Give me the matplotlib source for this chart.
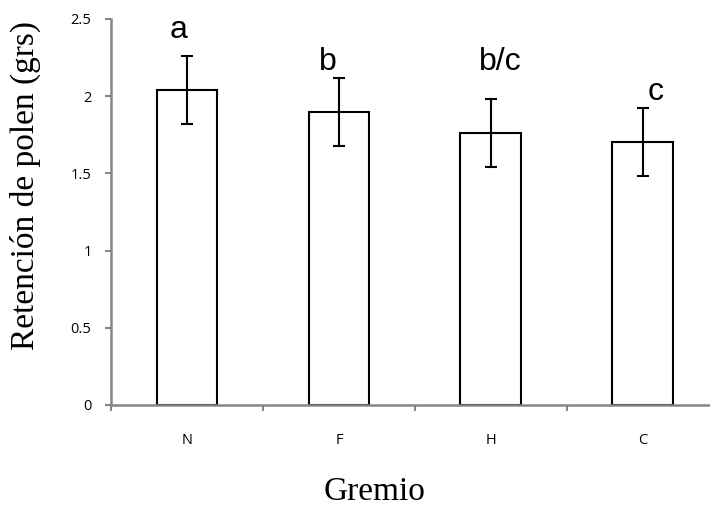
import matplotlib
matplotlib.use('Agg')
import matplotlib.pyplot as plt
import numpy as np

# data
gremios = ['N', 'F', 'H', 'C']
retencion = [2.04, 1.90, 1.76, 1.705]
error = [0.22, 0.22, 0.22, 0.22]
letras = ['a', 'b', 'b/c', 'c']
letras_y = [2.38, 2.17, 2.17, 1.975]
letras_dx = [-0.055, -0.075, 0.06, 0.085]

gris = '#868686'

fig = plt.figure(figsize=(7.1, 5.07), dpi=100)
ax = fig.add_axes([111/710, 1 - 405/507, 607.7/710, 386/507])

x = np.arange(len(gremios))
ax.bar(x, retencion, width=0.4, color='white', edgecolor='black', linewidth=1.5, zorder=2)
ax.errorbar(x, retencion, yerr=error, fmt='none', ecolor='black', elinewidth=1.5,
            capsize=4, capthick=1.5, zorder=3)

for xi, dx, ly, txt in zip(x, letras_dx, letras_y, letras):
    ax.text(xi + dx, ly, txt, ha='center', va='baseline', fontsize=23,
            family='Liberation Sans')

ax.set_xlim(-0.5, 3.5)
ax.set_ylim(0, 2.5)
ax.set_yticks([0, 0.5, 1, 1.5, 2, 2.5])
ax.set_yticklabels(['0', '0.5', '1', '1.5', '2', '2.5'], family='Open Sans', fontsize=10.5)
ax.set_xticks(np.arange(-0.5, 4, 1))
ax.set_xticklabels([])
ax.set_xticks(x, minor=True)
ax.set_xticklabels(gremios, minor=True, family='Open Sans', fontsize=10.5)
ax.tick_params(axis='x', which='minor', length=0, pad=20)
ax.tick_params(axis='both', which='major', direction='out', length=4, width=1.5, color=gris)
ax.tick_params(axis='y', pad=10)

for s in ['top', 'right']:
    ax.spines[s].set_visible(False)
for s in ['left', 'bottom']:
    ax.spines[s].set_color(gris)
    ax.spines[s].set_linewidth(1.8)
    ax.spines[s].set_zorder(4)

fig.text(25/710, 1 - 186/507, 'Retención de polen (grs)', rotation=90, ha='center', va='center',
         fontsize=24, family='Liberation Serif')
fig.text(375/710, 1 - 500/507, 'Gremio', ha='center', va='baseline', fontsize=24,
         family='Liberation Serif')

fig.savefig('out.png', dpi=100)
